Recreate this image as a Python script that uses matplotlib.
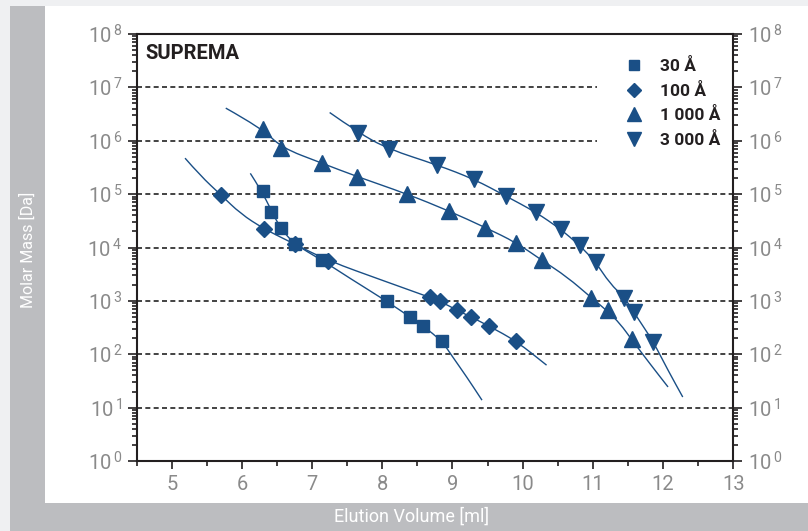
import matplotlib
matplotlib.use("Agg")
import matplotlib.pyplot as plt
from matplotlib.patches import Rectangle, PathPatch
from matplotlib.path import Path
from matplotlib.ticker import FixedLocator, LogLocator, NullFormatter

# marker positions (elution volume [ml], molar mass [Da])
v30 = [6.30, 6.42, 6.55, 6.75, 7.14, 8.06, 8.39, 8.58, 8.85]
m30 = [1.13e5, 4.7e4, 2.3e4, 1.15e4, 5.8e3, 990, 504, 341, 176]

v100 = [5.70, 6.31, 6.75, 7.23, 8.68, 8.82, 9.06, 9.26, 9.52, 9.91]
m100 = [9.7e4, 2.25e4, 1.16e4, 5.65e3, 1.16e3, 990, 672, 504, 337, 176]

v1000 = [6.30, 6.56, 7.14, 7.64, 8.35, 8.95, 9.47, 9.91, 10.27, 10.98, 11.21, 11.55]
m1000 = [1.66e6, 7.45e5, 3.8e5, 2.13e5, 1.01e5, 4.84e4, 2.36e4, 1.23e4, 5.8e3, 1.14e3, 672, 190]

v3000 = [7.66, 8.09, 8.78, 9.31, 9.76, 10.19, 10.54, 10.81, 11.04, 11.45, 11.58, 11.86]
m3000 = [1.41e6, 6.96e5, 3.53e5, 1.9e5, 9.2e4, 4.57e4, 2.2e4, 1.1e4, 5.3e3, 1.15e3, 624, 171]

# calibration curves
cv30 = [6.12, 6.28, 6.42, 6.55, 6.75, 7.14, 7.54, 8.06, 8.39, 8.58, 8.85, 9.00, 9.20, 9.42]
cm30 = [2.45e5, 1.15e5, 4.9e4, 2.3e4, 1.15e4, 5.8e3, 2.64e3, 990, 504, 341, 176, 90, 38, 13.8]

cv100 = [5.19, 5.41, 5.70, 5.98, 6.31, 6.75, 7.23, 8.01, 8.68, 8.82, 9.06, 9.26, 9.52, 9.91, 10.34]
cm100 = [4.72e5, 2.2e5, 9.7e4, 4.3e4, 2.25e4, 1.16e4, 5.65e3, 2.4e3, 1.16e3, 990, 672, 504, 337, 176, 62.5]

cv1000 = [5.77, 6.30, 6.56, 7.14, 7.64, 8.35, 8.95, 9.47, 9.91, 10.27, 10.63, 10.98, 11.21, 11.39, 11.55, 11.81, 12.07]
cm1000 = [4.09e6, 1.66e6, 7.45e5, 3.8e5, 2.13e5, 1.01e5, 4.84e4, 2.36e4, 1.23e4, 5.8e3, 2.83e3, 1.14e3, 640, 370, 190, 67, 24.4]

cv3000 = [7.25, 7.66, 8.09, 8.78, 9.31, 9.76, 10.19, 10.54, 10.81, 11.04, 11.24, 11.45, 11.58, 11.72, 11.86, 12.07, 12.28]
cm3000 = [3.38e6, 1.41e6, 6.96e5, 3.53e5, 1.9e5, 9.2e4, 4.57e4, 2.2e4, 1.1e4, 5.3e3, 2.13e3, 1.15e3, 624, 327, 171, 50, 15.8]

labels = ["30 Å", "100 Å", "1 000 Å", "3 000 Å"]
xticks = [5, 6, 7, 8, 9, 10, 11, 12, 13]

blue = "#1a4f86"
dark = "#231f20"


def smooth_curve(ax, xs, ys):
    # quadratic bezier chain: traced points act as control points
    verts = [(xs[0], ys[0])]
    codes = [Path.MOVETO]
    for i in range(1, len(xs) - 1):
        verts += [(xs[i], ys[i]), ((xs[i] + xs[i + 1]) / 2, (ys[i] * ys[i + 1]) ** 0.5)]
        codes += [Path.CURVE3, Path.CURVE3]
    verts.append((xs[-1], ys[-1]))
    codes.append(Path.LINETO)
    ax.add_patch(PathPatch(Path(verts, codes), fill=False, edgecolor=blue, lw=1.0, zorder=3))


plt.rcParams["font.family"] = ["Roboto", "DejaVu Sans"]
plt.rcParams["mathtext.fontset"] = "custom"
plt.rcParams["mathtext.rm"] = "Roboto:light"

fig = plt.figure(figsize=(8.08, 5.31), dpi=100)
fig.patch.set_facecolor("#eff0f2")
fig.patches.append(Rectangle((10 / 808, 0), 1, 1 - 6 / 531, transform=fig.transFigure,
                             facecolor="#bcbdc0", edgecolor="none", zorder=-10))
fig.patches.append(Rectangle((45 / 808, 28 / 531), 1, 1 - 34 / 531, transform=fig.transFigure,
                             facecolor="white", edgecolor="none", zorder=-9))

ax = fig.add_axes([136.6 / 808, 1 - 461 / 531, (733.3 - 136.6) / 808, (461 - 34) / 531])
ax.set_facecolor("none")
ax.set_yscale("log")
ax.set_xlim(4.5, 13)
ax.set_ylim(1, 1e8)

smooth_curve(ax, cv30, cm30)
smooth_curve(ax, cv100, cm100)
smooth_curve(ax, cv1000, cm1000)
smooth_curve(ax, cv3000, cm3000)

h1, = ax.plot(v30, m30, ls="none", marker="s", ms=9, color=blue, mec=blue, zorder=4, label=labels[0])
h2, = ax.plot(v100, m100, ls="none", marker="D", ms=8.5, color=blue, mec=blue, zorder=4, label=labels[1])
h3, = ax.plot(v1000, m1000, ls="none", marker="^", ms=12, color=blue, mec=blue, zorder=4, label=labels[2])
h4, = ax.plot(v3000, m3000, ls="none", marker="v", ms=12, color=blue, mec=blue, zorder=4, label=labels[3])

for k in range(1, 8):
    ax.axhline(10 ** k, color="#222222", lw=1.2, ls=(0, (3, 2)), zorder=1)

# white block behind the legend hides the grid there
ax.add_patch(Rectangle((597 / 808, 1 - 152 / 531), (733 - 597) / 808, 100 / 531,
                       transform=fig.transFigure, facecolor="white", edgecolor="none", zorder=2))

ax.xaxis.set_major_locator(FixedLocator(xticks))
ax.xaxis.set_minor_locator(FixedLocator([x + 0.5 for x in range(4, 13)]))
ax.set_xticklabels([str(x) for x in xticks])

ax.yaxis.set_major_locator(FixedLocator([10 ** k for k in range(9)]))
ax.set_yticklabels([r"$\mathregular{10^{\,%d}}$" % k for k in range(9)])
ax.yaxis.set_minor_locator(LogLocator(base=10, subs=range(2, 10), numticks=20))
ax.yaxis.set_minor_formatter(NullFormatter())

ax.tick_params(axis="both", which="both", direction="out", color=dark, width=1.2,
               labelcolor="#8a8a8a", labelsize=14.5)
ax.tick_params(axis="y", which="both", left=True, right=True, labelleft=True, labelright=True)
ax.tick_params(axis="y", which="major", length=6.5, pad=4)
ax.tick_params(axis="y", which="minor", length=3.5)
ax.tick_params(axis="x", which="major", length=6, pad=4)
ax.tick_params(axis="x", which="minor", length=3.5)
for s in ax.spines.values():
    s.set_color(dark)
    s.set_linewidth(1.5)

ax.text(145 / 808, 1 - 44 / 531, "SUPREMA", transform=fig.transFigure, fontsize=14.5,
        fontweight="bold", color=dark, va="top", ha="left")

leg = ax.legend(handles=[h1, h2, h3, h4], loc="upper left", bbox_to_anchor=(624 / 808, 1 - 58 / 531),
                bbox_transform=fig.transFigure, frameon=False, handlelength=1.2, handletextpad=0.9,
                labelspacing=0.5, borderpad=0, borderaxespad=0, markerscale=0.85,
                prop={"weight": "bold", "size": 12.5})
leg.set_zorder(5)
for t in leg.get_texts():
    t.set_color(dark)

fig.text(28 / 808, 1 - 250 / 531, "Molar Mass [Da]", rotation=90, color="white",
         fontsize=11.5, ha="center", va="center")
fig.text(412 / 808, 1 - 517 / 531, "Elution Volume [ml]", color="white",
         fontsize=13, ha="center", va="center")

fig.savefig("out.png", dpi=100, facecolor=fig.get_facecolor())
